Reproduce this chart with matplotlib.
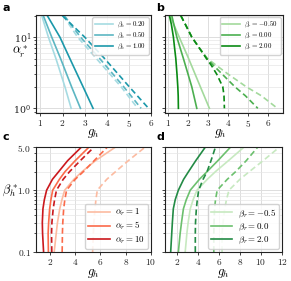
import matplotlib
matplotlib.use("Agg")
import matplotlib.pyplot as plt
from matplotlib.ticker import FuncFormatter, FixedLocator, NullFormatter
import numpy as np

plt.rcParams['mathtext.fontset'] = 'cm'
plt.rcParams['font.family'] = ['DejaVu Serif']

# ---------------- Panel a: alpha_r* vs g_h for beta_h ----------------
a_y = [20, 10, 5, 2, 1]
a_beta_h = ['0.20', '0.50', '1.00']
a_solid = [[1.06, 1.36, 1.70, 2.11, 2.39],
           [1.13, 1.51, 1.91, 2.41, 2.81],
           [1.31, 1.88, 2.33, 2.93, 3.38]]
a_dashed = [[2.03, 2.68, 3.53, 4.65, 5.40],
            [2.08, 2.81, 3.68, 4.77, 5.55],
            [1.99, 3.00, 3.90, 5.02, 5.89]]
a_colors = ['#a6dbe2', '#5cb6c2', '#1b98aa']

# ---------------- Panel b: alpha_r* vs g_h for beta_r ----------------
b_beta_r = ['-0.50', '0.00', '2.00']
b_y_solid = [[20, 10, 5, 2, 1],
             [20, 10, 5, 2, 1],
             [20, 15, 10, 7, 5, 3, 2, 1.5, 1]]
b_solid = [[1.08, 1.54, 2.01, 2.60, 3.05],
           [1.17, 1.42, 1.75, 2.17, 2.42],
           [1.05, 1.15, 1.25, 1.31, 1.37, 1.43, 1.47, 1.49, 1.50]]
b_y_dashed = [20, 15, 10, 7, 5, 4, 3, 2, 1.5, 1]
b_dashed = [[1.62, 1.85, 2.17, 2.55, 2.95, 3.40, 4.00, 4.90, 5.65, 6.45],
            [1.62, 1.85, 2.17, 2.55, 2.93, 3.25, 3.70, 4.33, 4.85, 5.47],
            [1.62, 1.85, 2.17, 2.55, 2.90, 3.15, 3.42, 3.72, 3.78, 3.80]]
b_colors = ['#a3d99c', '#4caf50', '#0a8a14']

# ---------------- Panel c: beta_h* vs g_h for alpha_r ----------------
cd_y = [0.1, 0.2, 0.3, 0.5, 0.7, 1.0, 1.5, 2.0, 3.0, 5.0]
c_alpha_r = ['1', '5', '10']
c_solid = [[2.34, 2.50, 2.60, 2.78, 2.95, 3.17, 3.90, 4.55, 5.60, 7.20],
           [1.88, 1.86, 1.90, 1.98, 2.08, 2.22, 2.75, 3.20, 4.00, 5.10],
           [1.50, 1.42, 1.40, 1.45, 1.56, 1.74, 2.20, 2.70, 3.40, 4.50]]
c_dashed = [[5.38, 5.44, 5.48, 5.57, 5.64, 5.75, 6.50, 7.20, 8.20, 9.55],
            [2.97, 2.99, 3.02, 3.09, 3.18, 3.32, 4.00, 4.65, 5.50, 6.55],
            [2.15, 2.13, 2.16, 2.26, 2.37, 2.52, 3.05, 3.56, 4.40, 5.50]]
c_colors = ['#fcbba1', '#fb6a4a', '#cb181d']

# ---------------- Panel d: beta_h* vs g_h for beta_r ----------------
d_beta_r = ['-0.5', '0.0', '2.0']
d_solid = [[2.80, 2.96, 3.08, 3.28, 3.55, 3.92, 4.90, 5.68, 6.90, 8.40],
           [2.15, 2.32, 2.45, 2.63, 2.90, 3.28, 4.15, 4.88, 5.90, 7.12],
           [1.42, 1.52, 1.58, 1.67, 1.85, 2.15, 2.65, 3.12, 3.80, 4.72]]
d_dashed = [[6.30, 6.30, 6.40, 6.55, 6.72, 6.96, 8.00, 8.90, 10.20, 11.77],
            [5.52, 5.52, 5.54, 5.59, 5.68, 5.84, 6.80, 7.60, 8.60, 9.70],
            [3.76, 3.76, 3.78, 3.86, 3.95, 4.08, 4.50, 4.88, 5.25, 5.68]]
d_colors = ['#c7e9c0', '#6cc06e', '#238b45']

W, H = 291, 281
fig = plt.figure(figsize=(W / 100, H / 100), dpi=100)

def box(l, t, r, b):
    return [l / W, 1 - b / H, (r - l) / W, (b - t) / H]

axa = fig.add_axes(box(36, 15, 151, 113))
axb = fig.add_axes(box(165, 15, 283, 113))
axc = fig.add_axes(box(36, 147, 151, 252))
axd = fig.add_axes(box(165, 147, 282, 252))

lw = 1.2
dash = (0, (3.5, 2))
mfmt = FuncFormatter(lambda v, p: r'$%g$' % v)

def style(ax):
    ax.set_facecolor('white')
    for s in ax.spines.values():
        s.set_color('#222222')
        s.set_linewidth(0.8)
    ax.grid(True, which='major', color='#dddddd', lw=0.7)
    ax.grid(True, which='minor', axis='y', color='#e6e6e6', lw=0.5)
    ax.set_axisbelow(True)
    ax.tick_params(which='major', length=2.5, width=0.6, labelsize=6.8, pad=1.0, colors='#222222')
    ax.tick_params(which='minor', length=1.5, width=0.5)
    ax.xaxis.set_major_formatter(mfmt)

for i in range(3):
    axa.plot(a_solid[i], a_y, color=a_colors[i], lw=lw, label=r'$\beta_h = %s$' % a_beta_h[i])
    axa.plot(a_dashed[i], a_y, color=a_colors[i], lw=lw, ls=dash)
for i in range(3):
    axb.plot(b_solid[i], b_y_solid[i], color=b_colors[i], lw=lw, label=r'$\beta_r = %s$' % b_beta_r[i])
    axb.plot(b_dashed[i], b_y_dashed, color=b_colors[i], lw=lw, ls=dash)
for i in range(3):
    axc.plot(c_solid[i], cd_y, color=c_colors[i], lw=lw, label=r'$\alpha_r = %s$' % c_alpha_r[i])
    axc.plot(c_dashed[i], cd_y, color=c_colors[i], lw=lw, ls=dash)
for i in range(3):
    axd.plot(d_solid[i], cd_y, color=d_colors[i], lw=lw, label=r'$\beta_r = %s$' % d_beta_r[i])
    axd.plot(d_dashed[i], cd_y, color=d_colors[i], lw=lw, ls=dash)

for ax in (axa, axb):
    ax.set_yscale('log')
    ax.set_ylim(0.86, 20.4)
    style(ax)
    ax.yaxis.set_minor_formatter(NullFormatter())
axa.set_xticks([1, 2, 3, 4, 5, 6])
axa.set_xlim(0.8, 6.0)
axb.set_xticks([1, 2, 3, 4, 5, 6])
axb.set_xlim(0.83, 6.73)
axb.yaxis.set_major_formatter(NullFormatter())

for ax in (axc, axd):
    ax.set_yscale('log')
    ax.set_ylim(0.1, 5.0)
    style(ax)
    ax.yaxis.set_major_locator(FixedLocator([0.1, 1.0, 5.0]))
    ax.yaxis.set_minor_formatter(NullFormatter())
axc.yaxis.set_major_formatter(FuncFormatter(lambda v, p: r'$%.1f$' % v))
axd.yaxis.set_major_formatter(NullFormatter())
axc.set_xticks([2, 4, 6, 8, 10])
axc.set_xlim(0.9, 10.0)
axd.set_xticks([2, 4, 6, 8, 10, 12])
axd.set_xlim(0.88, 12.0)

axa.set_xlabel(r'$g_h$', fontsize=9)
axa.xaxis.set_label_coords(0.5, -0.14)
axb.set_xlabel(r'$g_h$', fontsize=9)
axb.xaxis.set_label_coords(0.47, -0.14)
for ax in (axc, axd):
    ax.set_xlabel(r'$g_h$', fontsize=9)
    ax.xaxis.set_label_coords(0.5, -0.14)

axa.set_ylabel(r'$\alpha_r^*$', fontsize=9, rotation=0, va='center', ha='center')
axa.yaxis.set_label_coords(-0.14, 0.62)
axc.set_ylabel(r'$\beta_h^*$', fontsize=9, rotation=0, va='center', ha='center')
axc.yaxis.set_label_coords(-0.225, 0.59)

leg_ab = dict(fontsize=5.0, handlelength=2.6, handletextpad=0.6, borderpad=0.35,
              labelspacing=0.12, framealpha=0.85, edgecolor='#cccccc', fancybox=True,
              borderaxespad=0.35)
leg_cd = dict(fontsize=6.4, handlelength=2.4, handletextpad=0.6, borderpad=0.35,
              labelspacing=0.2, framealpha=0.85, edgecolor='#cccccc', fancybox=True,
              borderaxespad=0.35)
axa.legend(loc='upper right', **leg_ab)
axb.legend(loc='upper right', **leg_ab)
axc.legend(loc='lower right', **leg_cd)
axd.legend(loc='lower right', **leg_cd)

for lbl, x, y in [('a', 6, 8), ('b', 160, 8), ('c', 6, 137), ('d', 160, 137)]:
    fig.text(x / W, 1 - y / H, lbl, fontsize=8, fontweight='bold', family='DejaVu Sans',
             ha='center', va='center')

fig.savefig('out.png', dpi=100)
